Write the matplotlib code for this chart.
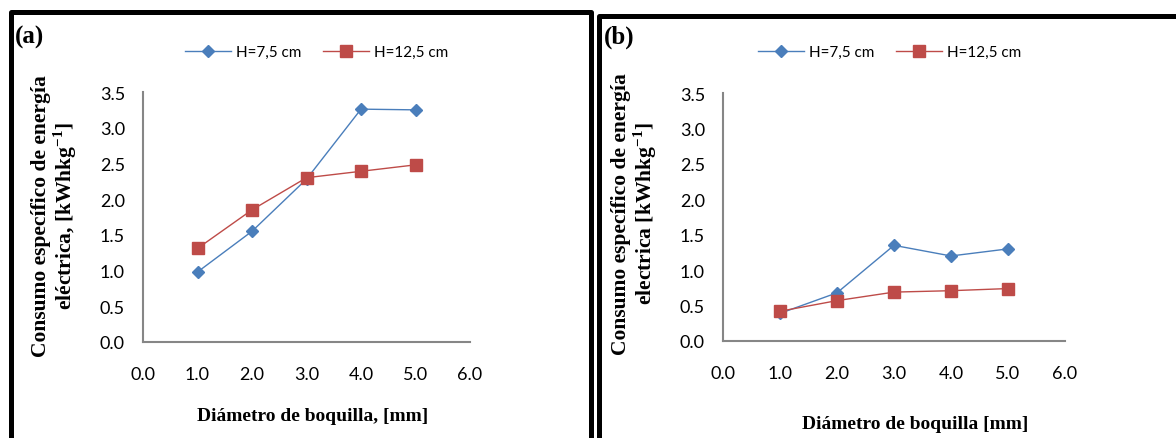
import matplotlib
matplotlib.use("Agg")
import matplotlib.pyplot as plt
from matplotlib.lines import Line2D

# Data
diametro = [1.0, 2.0, 3.0, 4.0, 5.0]
a_h75 = [0.98, 1.55, 2.28, 3.26, 3.25]
a_h125 = [1.31, 1.85, 2.30, 2.39, 2.48]
b_h75 = [0.39, 0.68, 1.35, 1.20, 1.30]
b_h125 = [0.42, 0.57, 0.69, 0.71, 0.74]
series_labels = ["H=7,5 cm", "H=12,5 cm"]
x_ticks = [0.0, 1.0, 2.0, 3.0, 4.0, 5.0, 6.0]
y_ticks = [0.0, 0.5, 1.0, 1.5, 2.0, 2.5, 3.0, 3.5]

plt.rcParams["mathtext.fontset"] = "custom"
plt.rcParams["mathtext.rm"] = "Liberation Serif"
plt.rcParams["mathtext.bf"] = "Liberation Serif:bold"

W, H = 1176, 439
fig = plt.figure(figsize=(W / 100, H / 100), dpi=100)

def fx(px):
    return px / W

def fy(py):
    return 1 - py / H

BLUE = "#4A7EBB"
RED = "#BE4B48"
AXIS = "#868686"
SANS = "Lato"
SERIF = "Liberation Serif"


def panel(rect, h75, h125, ylabel, ylab_xy, xlabel, xlab_xy, tag, tag_xy, leg_xy):
    l, r, t, b = rect
    ax = fig.add_axes([fx(l), fy(b), fx(r - l), fy(t) - fy(b)])
    ax.plot(diametro, h75, color=BLUE, lw=1.0, marker="D", ms=6.5,
            markeredgecolor=BLUE, markerfacecolor=BLUE, label=series_labels[0])
    ax.plot(diametro, h125, color=RED, lw=1.0, marker="s", ms=8,
            markeredgecolor=RED, markerfacecolor=RED, label=series_labels[1])
    ax.set_xlim(0, 6)
    ax.set_ylim(0, 3.5)
    ax.set_xticks(x_ticks)
    ax.set_yticks(y_ticks)
    ax.set_xticklabels([f"{v:.1f}" for v in x_ticks], fontfamily=SANS, fontsize=13)
    ax.set_yticklabels([f"{v:.1f}" for v in y_ticks], fontfamily=SANS, fontsize=13)
    ax.tick_params(length=0)
    ax.tick_params(axis="x", pad=17)
    ax.tick_params(axis="y", pad=13)
    for s in ("top", "right"):
        ax.spines[s].set_visible(False)
    for s in ("left", "bottom"):
        ax.spines[s].set_color(AXIS)
        ax.spines[s].set_linewidth(1.5)
    ax.patch.set_alpha(0)
    for line in ax.get_lines():
        line.set_clip_on(False)

    fig.text(fx(ylab_xy[0]), fy(ylab_xy[1]), ylabel, rotation=90,
             ha="center", va="center", multialignment="center",
             fontfamily=SERIF, fontweight="bold", fontsize=15.5, linespacing=1.05)
    fig.text(fx(xlab_xy[0]), fy(xlab_xy[1]), xlabel, ha="center", va="center",
             fontfamily=SERIF, fontweight="bold", fontsize=14)
    fig.text(fx(tag_xy[0]), fy(tag_xy[1]), tag, ha="left", va="center",
             fontfamily=SERIF, fontweight="bold", fontsize=18)
    ax.legend(loc="center left", bbox_to_anchor=(fx(leg_xy[0]), fy(leg_xy[1])),
              bbox_transform=fig.transFigure, ncol=2, frameon=False,
              borderpad=0, borderaxespad=0, handlelength=3.0, handletextpad=0.35,
              columnspacing=1.4, prop={"family": SANS, "size": 11})
    return ax


panel((143, 470, 93, 343), a_h75, a_h125,
      "Consumo específico de energía\neléctrica, [kWhkg$^{\\mathbf{-1}}$]", (55, 216),
      "Diámetro de boquilla, [mm]", (313, 417), "(a)", (15, 37), (185, 53))
panel((723, 1065, 94, 342), b_h75, b_h125,
      "Consumo específico de energía\nelectrica [kWhkg$^{\\mathbf{-1}}$]", (635, 214),
      "Diámetro de boquilla [mm]", (915, 425), "(b)", (604, 37), (758, 53))

# Frame lines around the two panels
def frame_line(xs, ys, lw=5):
    fig.add_artist(Line2D([fx(x) for x in xs], [fy(y) for y in ys],
                          color="black", lw=lw * 0.72, solid_capstyle="projecting"))

frame_line([10.5, 10.5, 590.5, 590.5], [445, 12.5, 12.5, 445])
frame_line([598.5, 598.5, 1180], [445, 16.5, 16.5])

fig.savefig("out.png", dpi=100)
